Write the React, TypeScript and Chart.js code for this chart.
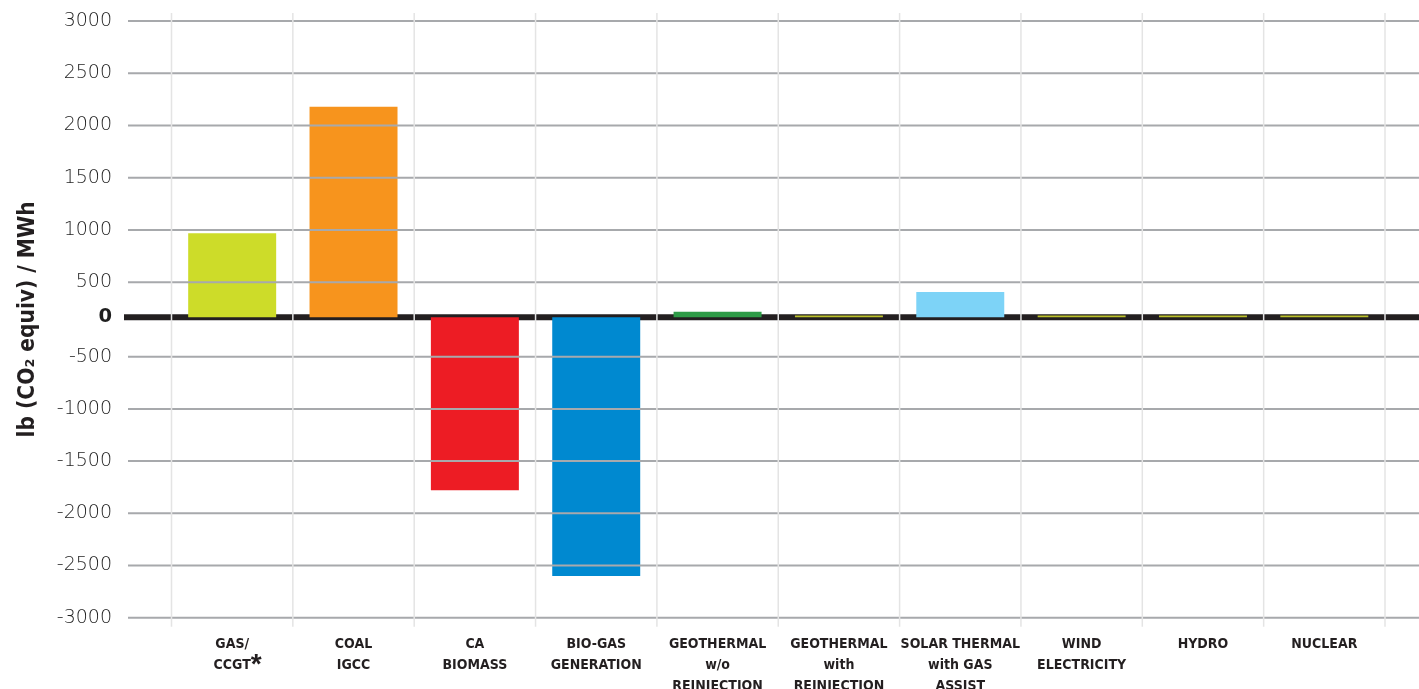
import React, { useEffect, useRef } from 'react';
import { Chart, registerables, LinearScale } from 'chart.js';

Chart.register(...registerables);

// ---------- data ----------
const categories: string[][] = [
  ['GAS/', 'CCGT'],
  ['COAL', 'IGCC'],
  ['CA', 'BIOMASS'],
  ['BIO-GAS', 'GENERATION'],
  ['GEOTHERMAL', 'w/o', 'REINJECTION'],
  ['GEOTHERMAL', 'with', 'REINJECTION'],
  ['SOLAR THERMAL', 'with GAS', 'ASSIST'],
  ['WIND', 'ELECTRICITY'],
  ['HYDRO'],
  ['NUCLEAR'],
];
const values: number[] = [970, 2180, -1780, -2600, 80, 25, 360, 25, 25, 25];
const barColors: string[] = [
  '#cddc29', '#f7941d', '#ed1c24', '#0089d0', '#2e9b47',
  '#bcc12b', '#7dd3f7', '#bcc12b', '#bcc12b', '#bcc12b',
];
const yTickValues: number[] = [-3000, -2500, -2000, -1500, -1000, -500, 0, 500, 1000, 1500, 2000, 2500, 3000];
const yAxisTitle = 'lb (CO\u2082 equiv) / MWh';
const footnoteMark = '*';

// ---------- broken (piecewise) value axis: the band -500..500 is compressed ----------
const SCALE_STOPS = [-3000, -500, 0, 500, 3000];
const SCALE_DECIMALS = [0, 0.4374, 0.5034, 0.5621, 1];

function valueToDecimal(v: number): number {
  const s = SCALE_STOPS, d = SCALE_DECIMALS;
  let i = 0;
  if (v <= s[0]) i = 0;
  else if (v >= s[s.length - 1]) i = s.length - 2;
  else { while (i < s.length - 2 && v > s[i + 1]) i++; }
  return d[i] + ((v - s[i]) / (s[i + 1] - s[i])) * (d[i + 1] - d[i]);
}
function decimalToValue(x: number): number {
  const s = SCALE_STOPS, d = SCALE_DECIMALS;
  let i = 0;
  if (x <= d[0]) i = 0;
  else if (x >= d[d.length - 1]) i = d.length - 2;
  else { while (i < d.length - 2 && x > d[i + 1]) i++; }
  return s[i] + ((x - d[i]) / (d[i + 1] - d[i])) * (s[i + 1] - s[i]);
}

class BrokenLinearScale extends LinearScale {
  static id = 'brokenLinear';
  getPixelForValue(value: any) {
    if (value === null || value === undefined || isNaN(value)) return NaN;
    return this.getPixelForDecimal(valueToDecimal(+value));
  }
  getValueForPixel(pixel: number) {
    return decimalToValue(this.getDecimalForPixel(pixel));
  }
}
Chart.register(BrokenLinearScale as any);

const NARROW = '"Liberation Sans Narrow", "DejaVu Sans Condensed", "Arial Narrow", sans-serif';
const LIGHT = '"DejaVu Sans", "Liberation Sans", sans-serif';

const refLines = {
  id: 'refLines',
  beforeDatasetsDraw(chart: any) {
    const { ctx, scales } = chart;
    const y0 = scales.y.getPixelForValue(0);
    ctx.save();
    ctx.strokeStyle = '#231f20';
    ctx.lineWidth = 6;
    ctx.beginPath();
    ctx.moveTo(124, y0);
    ctx.lineTo(chart.width, y0);
    ctx.stroke();
    ctx.restore();
  },
  afterDatasetsDraw(chart: any) {
    const { ctx, scales, chartArea } = chart;
    const y = scales.y;
    ctx.save();
    ctx.strokeStyle = '#a7a9ac';
    ctx.lineWidth = 2;
    y.ticks.forEach((t: any) => {
      if (t.value === 0) return;
      const py = y.getPixelForValue(t.value);
      ctx.beginPath();
      ctx.moveTo(128, py);
      ctx.lineTo(chart.width, py);
      ctx.stroke();
    });
    const n = categories.length;
    const w = (chartArea.right - chartArea.left) / n;
    ctx.strokeStyle = '#e4e4e4';
    ctx.lineWidth = 1.5;
    for (let i = 0; i <= n; i++) {
      const px = chartArea.left + i * w;
      ctx.beginPath();
      ctx.moveTo(px, chartArea.top - 8);
      ctx.lineTo(px, chartArea.bottom + 9);
      ctx.stroke();
    }
    ctx.restore();
  },
  afterDraw(chart: any) {
    const { ctx, scales } = chart;
    const px = scales.x.getPixelForValue(0) + 24;
    ctx.save();
    ctx.fillStyle = '#231f20';
    ctx.font = 'bold 28px "Liberation Sans", sans-serif';
    ctx.textAlign = 'center';
    ctx.textBaseline = 'alphabetic';
    ctx.fillText(footnoteMark, px, 673);
    ctx.restore();
  },
};

export default function App() {
  const ref = useRef<HTMLCanvasElement>(null);
  useEffect(() => {
    if (!ref.current) return;
    const chart = new Chart(ref.current, {
      type: 'bar',
      data: {
        labels: categories as any,
        datasets: [
          {
            data: values,
            backgroundColor: barColors,
            borderWidth: 0,
            barPercentage: 0.725,
            categoryPercentage: 1,
          },
        ],
      },
      options: {
        responsive: false,
        devicePixelRatio: 1,
        animation: false,
        layout: { padding: { top: 21, right: 34, bottom: 0, left: 0 } },
        plugins: { legend: { display: false }, tooltip: { enabled: false } },
        scales: {
          x: {
            type: 'category',
            grid: { display: false, drawTicks: false },
            border: { display: false },
            ticks: {
              color: '#231f20',
              font: { family: NARROW, weight: 'bold', size: 14, lineHeight: '21px' } as any,
              padding: 16,
              maxRotation: 0,
              minRotation: 0,
              autoSkip: false,
            },
            afterFit: (scale: any) => {
              scale.height = 71.3;
              scale.paddingLeft = 0;
              scale.paddingRight = 0;
            },
          },
          y: {
            type: 'brokenLinear' as any,
            min: -3000,
            max: 3000,
            grid: { display: false, drawTicks: false },
            border: { display: false },
            afterBuildTicks: (scale: any) => {
              scale.ticks = yTickValues.map((v) => ({ value: v }));
            },
            ticks: {
              autoSkip: false,
              color: '#1e1e1e',
              padding: 59.5,
              callback: (v: any) => String(v),
              font: ((ctx: any) =>
                ctx.tick && ctx.tick.value === 0
                  ? { family: LIGHT, weight: 'bold', size: 19.5 }
                  : { family: LIGHT, weight: '300', size: 19 }) as any,
            },
            title: {
              display: true,
              text: yAxisTitle,
              color: '#231f20',
              font: { family: NARROW, weight: 'bold', size: 22.5 },
              padding: { top: 15, bottom: 0 },
            },
            afterFit: (scale: any) => {
              scale.width = 171.5;
              scale.paddingTop = 0;
              scale.paddingBottom = 0;
            },
          } as any,
        },
      },
      plugins: [refLines],
    } as any);
    return () => chart.destroy();
  }, []);
  return (
    <div style={{ position: 'fixed', left: 0, top: 0, width: 1419, height: 689, background: '#fff' }}>
      <canvas ref={ref} width={1419} height={689} style={{ display: 'block', width: 1419, height: 689 }} />
    </div>
  );
}
